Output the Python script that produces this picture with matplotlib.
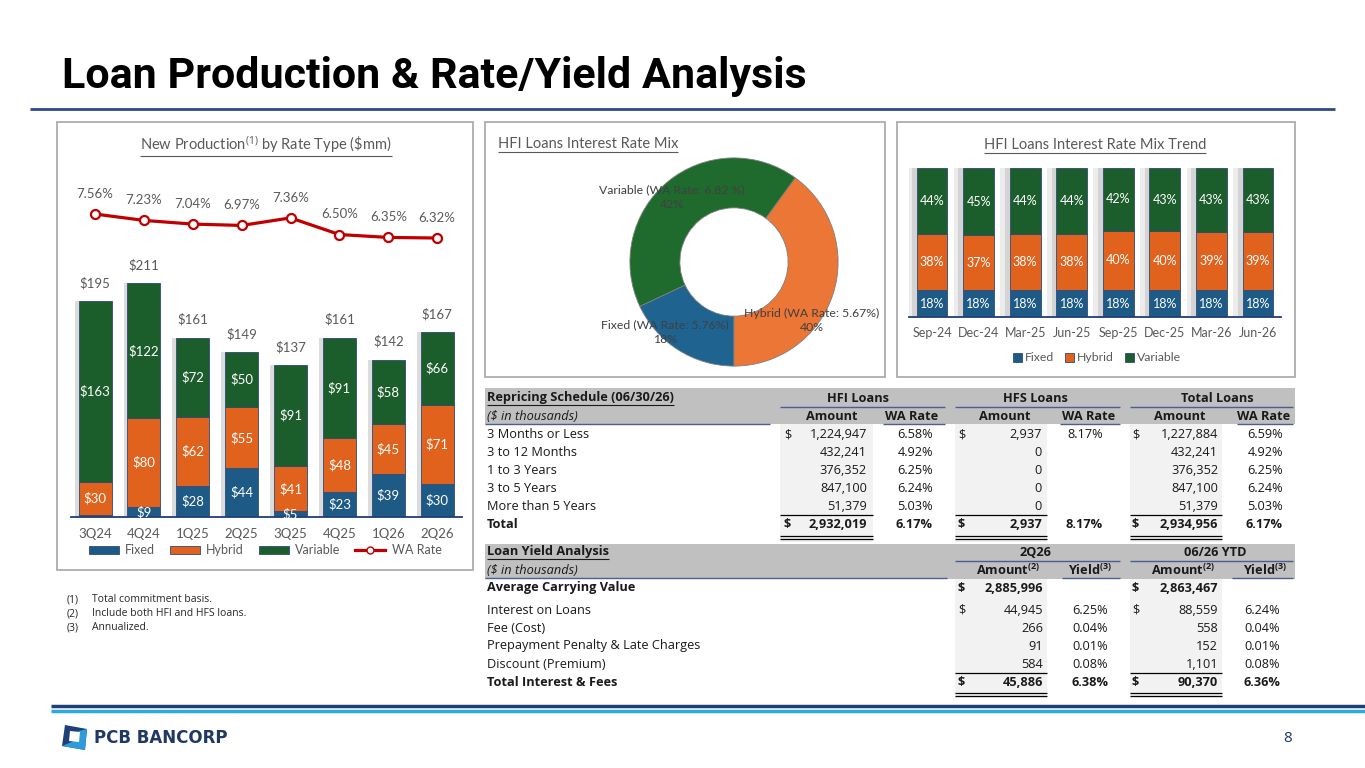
import numpy as np
import matplotlib.pyplot as plt
from matplotlib.patches import Rectangle, Polygon, Patch
from matplotlib.lines import Line2D

plt.rcParams['font.family'] = ['Lato', 'DejaVu Sans']
plt.rcParams['mathtext.fontset'] = 'custom'
plt.rcParams['mathtext.rm'] = 'Open Sans'
plt.rcParams['mathtext.bf'] = 'Open Sans:bold'
plt.rcParams['mathtext.it'] = 'Open Sans:italic'

# ---- data: new production by rate type ($mm)
quarters = ['3Q24', '4Q24', '1Q25', '2Q25', '3Q25', '4Q25', '1Q26', '2Q26']
prod_fixed = [2, 9, 28, 44, 5, 23, 39, 30]
prod_hybrid = [30, 80, 62, 55, 41, 48, 45, 71]
prod_variable = [163, 122, 72, 50, 91, 91, 58, 66]
prod_total = [195, 211, 161, 149, 137, 161, 142, 167]
wa_rate = [7.56, 7.23, 7.04, 6.97, 7.36, 6.50, 6.35, 6.32]

# ---- data: HFI loans interest rate mix
mix_names = ['Fixed', 'Hybrid', 'Variable']
mix_share = [18, 40, 42]
mix_rate = ['5.76%', '5.67%', '6.82 %']

# ---- data: HFI loans interest rate mix trend (%)
trend_dates = ['Sep-24', 'Dec-24', 'Mar-25', 'Jun-25', 'Sep-25', 'Dec-25', 'Mar-26', 'Jun-26']
trend_fixed = [18, 18, 18, 18, 18, 18, 18, 18]
trend_hybrid = [38, 37, 38, 38, 40, 40, 39, 39]
trend_variable = [44, 45, 44, 44, 42, 43, 43, 43]

# ---- data: repricing schedule ($ in thousands)
rep_labels = ['3 Months or Less', '3 to 12 Months', '1 to 3 Years', '3 to 5 Years', 'More than 5 Years']
hfi_amount = [1224947, 432241, 376352, 847100, 51379]
hfi_rate = [6.58, 4.92, 6.25, 6.24, 5.03]
hfs_amount = [2937, 0, 0, 0, 0]
hfs_rate = [8.17, None, None, None, None]
tot_amount = [1227884, 432241, 376352, 847100, 51379]
tot_rate = [6.59, 4.92, 6.25, 6.24, 5.03]
rep_totals = [(2932019, 6.17), (2937, 8.17), (2934956, 6.17)]

# ---- data: loan yield analysis ($ in thousands)
yld_labels = ['Interest on Loans', 'Fee (Cost)', 'Prepayment Penalty & Late Charges', 'Discount (Premium)']
q_amount = [44945, 266, 91, 584]
q_yield = [6.25, 0.04, 0.01, 0.08]
ytd_amount = [88559, 558, 152, 1101]
ytd_yield = [6.24, 0.04, 0.01, 0.08]
avg_carrying = [2885996, 2863467]
yld_totals = [(45886, 6.38), (90370, 6.36)]

footnotes = ['Total commitment basis.', 'Include both HFI and HFS loans.', 'Annualized.']

c_fixed, c_hybrid, c_var = '#1d5a86', '#e1621d', '#1c5e2b'
edge = '#2f4a7a'
gray_txt = '#595959'
navy = '#2e4a86'

W, H = 1365, 768
fig = plt.figure(figsize=(W / 100, H / 100), dpi=100)
ov = fig.add_axes([0, 0, 1, 1])
ov.set_xlim(0, W)
ov.set_ylim(H, 0)
ov.axis('off')


def px_axes(l, t, r, b):
    return fig.add_axes([l / W, 1 - b / H, (r - l) / W, (b - t) / H])


def hline(x0, x1, y, color='#4a5f8f', lw=1.0):
    ov.plot([x0, x1], [y, y], color=color, lw=lw, solid_capstyle='butt')


def tx(x, y, s, ha='left', bold=False, italic=False, size=9.2, color='#1a1a1a'):
    return ov.text(x, y, s, ha=ha, va='center', fontsize=size, family='Open Sans',
                   fontweight='bold' if bold else 'normal',
                   fontstyle='italic' if italic else 'normal', color=color)


to_underline = []

# title and frame lines
ov.text(62, 88, 'Loan Production & Rate/Yield Analysis', fontsize=31, fontweight='bold',
        family='Roboto', color='black', va='baseline')
hline(30, 1335, 109, color=navy, lw=2)
hline(51, W, 706, color='#1f3f77', lw=2.5)
hline(51, W, 711, color='#29a9e0', lw=2.5)

# panel boxes
for l, t, r, b in [(57, 122, 473, 570), (485, 122, 885, 377), (897, 122, 1295, 377)]:
    ov.add_patch(Rectangle((l, t), r - l, b - t, fill=False, ec='#a6a6a6', lw=1.2))

# ---- left chart
t = ov.text(266, 145, r'New Production$^{(1)}$ by Rate Type (\$mm)', ha='center', va='center',
            fontsize=10.5, color=gray_txt)
to_underline.append((t, gray_txt))

ax1 = px_axes(70.6, 197, 461.6, 517)
x = np.arange(len(quarters))
bw = 0.675
f = np.array(prod_fixed)
h = np.array(prod_hybrid)
v = np.array(prod_variable)
ax1.bar(x - 0.08, f + h + v, bw, color='#dcdcdc', zorder=1)
ax1.bar(x, f, bw, color=c_fixed, ec=edge, lw=0.6, zorder=2)
ax1.bar(x, h, bw, bottom=f, color=c_hybrid, ec=edge, lw=0.6, zorder=2)
ax1.bar(x, v, bw, bottom=f + h, color=c_var, ec=edge, lw=0.6, zorder=2)
for i in range(len(x)):
    for val, bot in [(f[i], 0), (h[i], f[i]), (v[i], f[i] + h[i])]:
        if val >= 4:
            ax1.text(i, bot + val / 2, f'${val}', ha='center', va='center', color='white',
                     fontsize=9.5, zorder=3)
    ax1.annotate(f'${prod_total[i]}', (i, f[i] + h[i] + v[i]), xytext=(0, 13),
                 textcoords='offset points', ha='center', va='center', color=gray_txt, fontsize=9.5)
ax1.set_xlim(-0.5, 7.5)
ax1.set_ylim(0, 289)
ax1.set_xticks(x, quarters)
ax1.set_yticks([])
ax1.tick_params(axis='x', length=0, pad=8, labelsize=9.5, labelcolor=gray_txt)
for s in ['top', 'left', 'right']:
    ax1.spines[s].set_visible(False)
ax1.spines['bottom'].set_color('#1f3f77')
ax1.spines['bottom'].set_linewidth(1.3)
ax1.patch.set_alpha(0)

ax1b = ax1.twinx()
ax1b.set_ylim(-8.10, 8.44)
ax1b.plot(x, wa_rate, color='#c00000', lw=2.3, marker='o', ms=6.5, mfc='white',
          mec='#c00000', mew=1.6, zorder=3)
for i, r in enumerate(wa_rate):
    ax1b.annotate(f'{r:.2f}%', (i, r), xytext=(0, 14.5), textcoords='offset points',
                  ha='center', va='center', color=gray_txt, fontsize=9.5)
ax1b.axis('off')

handles = [Patch(fc=c_fixed, ec=edge, lw=0.6), Patch(fc=c_hybrid, ec=edge, lw=0.6),
           Patch(fc=c_var, ec=edge, lw=0.6),
           Line2D([], [], color='#c00000', lw=2.3, marker='o', ms=5, mfc='white', mec='#c00000')]
ax1.legend(handles, ['Fixed', 'Hybrid', 'Variable', 'WA Rate'], loc='center',
           bbox_to_anchor=(265 / W, 1 - 550 / H), bbox_transform=fig.transFigure, ncol=4,
           frameon=False, fontsize=9, labelcolor=gray_txt, handlelength=2.4, handleheight=0.6,
           columnspacing=1.2, handletextpad=0.5)

# ---- middle donut
t = ov.text(498, 144, 'HFI Loans Interest Rate Mix', ha='left', va='center', fontsize=10.5,
            color=gray_txt)
to_underline.append((t, gray_txt))
ax2 = px_axes(734 - 114.5, 262 - 114.5, 734 + 114.5, 262 + 114.5)
ax2.pie(mix_share, colors=['#1f6391', '#ec7636', '#1f6b2d'], startangle=-90 - mix_share[0] * 3.6,
        counterclock=True, radius=1,
        wedgeprops=dict(width=0.48, edgecolor='#7f7f7f', linewidth=0.6))
ax2.set_xlim(-1.1, 1.1)
ax2.set_ylim(-1.1, 1.1)
ax2.set_aspect('equal')
label_pos = [(-0.66, -0.67), (0.75, -0.56), (-0.60, 0.62)]
for (lx, ly), name, share, rate in zip(label_pos, mix_names, mix_share, mix_rate):
    ax2.text(lx, ly, f'{name} (WA Rate: {rate})\n{share}%', ha='center', va='center',
             fontsize=8.8, color='#404040', linespacing=1.4, clip_on=False)

# ---- right chart
t = ov.text(1095, 145, 'HFI Loans Interest Rate Mix Trend', ha='center', va='center',
            fontsize=10.5, color=gray_txt)
to_underline.append((t, gray_txt))
ax3 = px_axes(908.7, 168, 1281.3, 317)
xt = np.arange(len(trend_dates))
tf = np.array(trend_fixed, float)
th = np.array(trend_hybrid, float)
tv = np.array(trend_variable, float)
tot = tf + th + tv
pf, ph, pv = tf / tot * 100, th / tot * 100, tv / tot * 100
bw3 = 0.665
ax3.bar(xt - 0.2, tot / tot * 100, bw3, color='#ececec', zorder=1)
ax3.bar(xt - 0.1, tot / tot * 100, bw3, color='#d4d4d4', zorder=1)
ax3.bar(xt, pf, bw3, color=c_fixed, ec=edge, lw=0.6, zorder=2, label='Fixed')
ax3.bar(xt, ph, bw3, bottom=pf, color=c_hybrid, ec=edge, lw=0.6, zorder=2, label='Hybrid')
ax3.bar(xt, pv, bw3, bottom=pf + ph, color=c_var, ec=edge, lw=0.6, zorder=2, label='Variable')
for i in range(len(xt)):
    for raw, val, bot in [(tf[i], pf[i], 0), (th[i], ph[i], pf[i]), (tv[i], pv[i], pf[i] + ph[i])]:
        ax3.text(i, bot + val / 2, f'{raw:.0f}%', ha='center', va='center', color='white',
                 fontsize=9, zorder=3)
ax3.set_xlim(-0.5, 7.5)
ax3.set_ylim(0, 100)
ax3.set_xticks(xt, trend_dates)
ax3.set_yticks([])
ax3.tick_params(axis='x', length=0, pad=7, labelsize=9, labelcolor=gray_txt)
for s in ['top', 'left', 'right']:
    ax3.spines[s].set_visible(False)
ax3.spines['bottom'].set_color('#1f3f77')
ax3.spines['bottom'].set_linewidth(1.3)
ax3.patch.set_alpha(0)
ax3.legend(loc='center', bbox_to_anchor=(1097 / W, 1 - 358 / H), bbox_transform=fig.transFigure,
           ncol=3, frameon=False, fontsize=8.8, labelcolor=gray_txt, handlelength=0.75,
           handleheight=0.75, columnspacing=0.9, handletextpad=0.25)

# ---- repricing schedule table
amt_cols = [(780, 873), (955, 1047), (1130, 1222)]
ov.add_patch(Rectangle((485, 388), 810, 36, color='#c0c0c0', lw=0))
for a0, a1 in amt_cols:
    ov.add_patch(Rectangle((a0, 424), a1 - a0, 118, color='#f2f2f2', lw=0))
t = tx(487, 398, 'Repricing Schedule (06/30/26)', bold=True)
to_underline.append((t, '#1a1a1a'))
for cx, s in [(858, 'HFI Loans'), (1035, 'HFS Loans'), (1217, 'Total Loans')]:
    tx(cx, 398, s, ha='center', bold=True)
for x0, x1 in [(780, 945), (955, 1120), (1130, 1293)]:
    hline(x0, x1, 407)
tx(487, 416, '($ in thousands)', italic=True)
for cx in [832, 1005, 1180]:
    tx(cx, 416, 'Amount', ha='center', bold=True)
for cx in [912, 1089, 1264]:
    tx(cx, 416, 'WA Rate', ha='center', bold=True)
for x0, x1 in [(485, 770), (883, 945), (1060, 1120), (1237, 1293)]:
    hline(x0, x1, 424)

dollar_x = [784, 958, 1132]
amt_right = [867, 1042, 1218]
rate_right = [933, 1103, 1283]
cols = [(hfi_amount, hfi_rate), (hfs_amount, hfs_rate), (tot_amount, tot_rate)]
for i, lab in enumerate(rep_labels):
    y = 435 + 18 * i
    tx(487, y, lab)
    for c, (amts, rates) in enumerate(cols):
        if i == 0:
            tx(dollar_x[c], y, '$')
        tx(amt_right[c], y, f'{amts[i]:,}', ha='right')
        if rates[i] is not None:
            tx(rate_right[c], y, f'{rates[i]:.2f}%', ha='right')
y = 525
tx(487, y, 'Total', bold=True)
for c, (amt, rate) in enumerate(rep_totals):
    tx(dollar_x[c], y, '$', bold=True)
    tx(amt_right[c], y, f'{amt:,}', ha='right', bold=True)
    tx(rate_right[c], y, f'{rate:.2f}%', ha='right', bold=True)
for a0, a1 in amt_cols:
    hline(a0, a1, 515, color='black', lw=0.9)
    hline(a0, a1, 536, color='black', lw=0.9)
    hline(a0, a1, 539, color='black', lw=0.9)

# ---- loan yield table
amt_cols2 = [(955, 1047), (1130, 1222)]
ov.add_patch(Rectangle((485, 544), 810, 35, color='#c0c0c0', lw=0))
for a0, a1 in amt_cols2:
    ov.add_patch(Rectangle((a0, 579), a1 - a0, 119, color='#f2f2f2', lw=0))
t = tx(487, 552, 'Loan Yield Analysis', bold=True)
to_underline.append((t, '#1a1a1a'))
for cx, s in [(1035, '2Q26'), (1215, '06/26 YTD')]:
    tx(cx, 552, s, ha='center', bold=True)
for x0, x1 in [(955, 1120), (1130, 1293)]:
    hline(x0, x1, 561)
tx(487, 570, '($ in thousands)', italic=True)
for cx in [1008, 1183]:
    tx(cx, 570, r'Amount$^{\mathbf{(2)}}$', ha='center', bold=True)
for cx in [1090, 1265]:
    tx(cx, 570, r'Yield$^{\mathbf{(3)}}$', ha='center', bold=True)
for x0, x1 in [(485, 947), (1062, 1120), (1232, 1293)]:
    hline(x0, x1, 578)

dollar_x2 = [958, 1132]
amt_right2 = [1043, 1218]
yld_right2 = [1108, 1280]
tx(487, 588, 'Average Carrying Value', bold=True)
for c, amt in enumerate(avg_carrying):
    tx(dollar_x2[c], 588, '$', bold=True)
    tx(amt_right2[c], 588, f'{amt:,}', ha='right', bold=True)
cols2 = [(q_amount, q_yield), (ytd_amount, ytd_yield)]
for i, lab in enumerate(yld_labels):
    y = 610 + 18 * i
    tx(487, y, lab)
    for c, (amts, ylds) in enumerate(cols2):
        if i == 0:
            tx(dollar_x2[c], y, '$')
        tx(amt_right2[c], y, f'{amts[i]:,}', ha='right')
        tx(yld_right2[c], y, f'{ylds[i]:.2f}%', ha='right')
y = 683
tx(487, y, 'Total Interest & Fees', bold=True)
for c, (amt, yl) in enumerate(yld_totals):
    tx(dollar_x2[c], y, '$', bold=True)
    tx(amt_right2[c], y, f'{amt:,}', ha='right', bold=True)
    tx(yld_right2[c], y, f'{yl:.2f}%', ha='right', bold=True)
for a0, a1 in amt_cols2:
    hline(a0, a1, 673, color='black', lw=0.9)
    hline(a0, a1, 693, color='black', lw=0.9)
    hline(a0, a1, 696, color='black', lw=0.9)

# ---- footnotes
for i, note in enumerate(footnotes):
    tx(67, 600 + 14 * i, f'({i + 1})', size=7.5, color='#262626')
    tx(92, 600 + 14 * i, note, size=7.5, color='#262626')

# ---- logo and page number
ov.add_patch(Polygon([(65, 725), (87, 729), (85, 750), (62, 746)], closed=True, color='#1f3f77', lw=0))
ov.add_patch(Polygon([(87, 729), (85, 750), (62, 746), (74, 741), (79, 731)], closed=True,
                     color='#2e9cdb', lw=0))
ov.add_patch(Polygon([(70, 731), (80, 732), (79, 742), (69, 741)], closed=True, color='white', lw=0))
ov.text(94, 738, 'PCB BANCORP', fontsize=12, fontweight='bold', family='DejaVu Sans',
        color='#1f3864', va='center')
ov.text(1292, 738, '8', fontsize=11, family='Open Sans', color='#1f3864', va='center', ha='right')

# underlines for section titles
renderer = fig.canvas.get_renderer()
for t, col in to_underline:
    bb = t.get_window_extent(renderer=renderer)
    yy = H - bb.y0 + 0.5
    hline(bb.x0, bb.x1, yy, color=col, lw=0.8)

fig.savefig('out.png', dpi=100)
